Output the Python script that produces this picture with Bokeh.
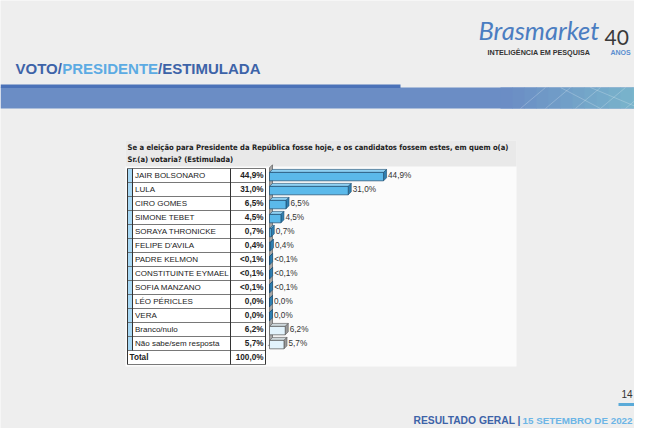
from bokeh.plotting import figure
from bokeh.models import Range1d
from bokeh.embed import file_html
from bokeh.resources import INLINE
from bokeh.core.properties import value

# ---------------- data ----------------
categories = ["JAIR BOLSONARO", "LULA", "CIRO GOMES", "SIMONE TEBET", "SORAYA THRONICKE",
              "FELIPE D'AVILA", "PADRE KELMON", "CONSTITUINTE EYMAEL", "SOFIA MANZANO",
              "LÉO PÉRICLES", "VERA", "Branco/nulo", "Não sabe/sem resposta"]
values = [44.9, 31.0, 6.5, 4.5, 0.7, 0.4, 0.05, 0.05, 0.05, 0.0, 0.0, 6.2, 5.7]
value_labels = ["44,9%", "31,0%", "6,5%", "4,5%", "0,7%", "0,4%", "<0,1%", "<0,1%", "<0,1%",
                "0,0%", "0,0%", "6,2%", "5,7%"]
total_label = "Total"
total_value = "100,0%"
non_candidates = ["Branco/nulo", "Não sabe/sem resposta"]
question = ["Se a eleição para Presidente da República fosse hoje, e os candidatos fossem estes, em quem o(a)",
            "Sr.(a) votaria? (Estimulada)"]

# ---------------- figure (pixel-like coords) ----------------
W, H = 634, 428
p = figure(width=W, height=H, output_backend="svg", toolbar_location=None,
           x_range=Range1d(0, W), y_range=Range1d(H, 0), min_border=0)
p.axis.visible = False
p.grid.visible = False
p.outline_line_color = None
p.background_fill_color = "#eeeeee"
p.border_fill_color = "#eeeeee"

# scales for the chart: percent axis and row axis
PX_PER_PCT = 2.54
X0 = 269
p.extra_x_ranges = {"pct": Range1d((0 - X0) / PX_PER_PCT, (W - X0) / PX_PER_PCT)}
ROW0, ROWH = 175, 14
p.extra_y_ranges = {"row": Range1d((H - ROW0) / ROWH, (0 - ROW0) / ROWH)}

# ---------------- header ----------------
title_font = value("Liberation Sans")
p.text(x=[15], y=[68], text=["VOTO/"], text_font=title_font, text_font_size="15px",
       text_font_style="bold", text_color="#3d63a8", text_baseline="middle")
p.text(x=[61.7], y=[68], text=["PRESIDENTE"], text_font=title_font, text_font_size="15px",
       text_font_style="bold", text_color="#5cabe3", text_baseline="middle")
p.text(x=[157.5], y=[68], text=["/ESTIMULADA"], text_font=title_font, text_font_size="15px",
       text_font_style="bold", text_color="#3d63a8", text_baseline="middle")

# band
p.quad(left=[0], right=[W], top=[87], bottom=[108], fill_color="#6b8dc5", line_color=None)
steps = 12
for k in range(steps):
    t = k / (steps - 1)
    r = int(0x6b + (0x7a - 0x6b) * t)
    g = int(0x8d + (0xb6 - 0x8d) * t)
    b = int(0xc5 + (0xcc - 0xc5) * t)
    l = 500 + k * 12
    p.quad(left=[l], right=[l + 12.5], top=[87], bottom=[108],
           fill_color="#%02x%02x%02x" % (r, g, b), line_color=None)
p.quad(left=[0], right=[400], top=[84], bottom=[87.5], fill_color="#4b72b8", line_color=None)
p.segment(x0=[520, 545, 575, 600, 625, 560, 590], y0=[108, 108, 108, 108, 108, 87, 87],
          x1=[545, 570, 600, 625, 650, 600, 640], y1=[87, 87, 87, 87, 87, 108, 108],
          line_color="#ffffff", line_alpha=0.22, line_width=1)

# logo
p.text(x=[478], y=[29], text=["Brasmarket"], text_font=value("Lato"), text_font_size="25.5px",
       text_font_style="italic", text_color="#4b7dc1", text_baseline="middle")
p.text(x=[604], y=[37], text=["40"], text_font=value("Lato"), text_font_size="21px",
       text_color="#3a3a3a", text_baseline="middle")
p.text(x=[487], y=[51.5], text=["INTELIGÊNCIA EM PESQUISA"], text_font=value("Liberation Sans"),
       text_font_size="7.2px", text_font_style="bold", text_color="#333333", text_baseline="middle")
p.text(x=[610], y=[51.5], text=["ANOS"], text_font=value("Liberation Sans"),
       text_font_size="7px", text_font_style="bold", text_color="#5a8fd0", text_baseline="middle")

# ---------------- panel ----------------
p.quad(left=[125], right=[516], top=[140], bottom=[366], fill_color="#fbfbfb", line_color=None)
p.quad(left=[125], right=[516], top=[140], bottom=[166], fill_color="#e9e9e9", line_color=None)
p.text(x=[127, 127], y=[147, 159], text=question, text_font=value("DejaVu Sans Condensed"),
       text_font_size="7.6px", text_font_style="bold", text_color="#222222", text_baseline="middle")

# ---------------- table ----------------
n = len(categories)
rows = list(range(n))
p.quad(left=[127], right=[132], top=[-0.5], bottom=[n - 0.5], fill_color="#a9d9f5",
       line_color=None, y_range_name="row")
p.quad(left=[132], right=[265], top=[-0.5], bottom=[n - 0.5], fill_color="#ffffff",
       line_color=None, y_range_name="row")
p.quad(left=[127], right=[265], top=[n - 0.5], bottom=[n + 0.5], fill_color="#ffffff",
       line_color=None, y_range_name="row")
bounds = [r - 0.5 for r in rows] + [n - 0.5, n + 0.5]
p.segment(x0=[127] * len(bounds), x1=[265] * len(bounds), y0=bounds, y1=bounds,
          line_color="#555555", line_width=0.8, y_range_name="row")
p.segment(x0=[127, 230, 265], x1=[127, 230, 265], y0=[-0.5] * 3, y1=[n + 0.5] * 3,
          line_color="#333333", line_width=1, y_range_name="row")
p.segment(x0=[132], x1=[132], y0=[-0.5], y1=[n - 0.5], line_color="#333333",
          line_width=1, y_range_name="row")

p.text(x=[134.5] * n, y=rows, text=categories, text_font=value("Liberation Sans"),
       text_font_size="8px", text_color="#222222", text_baseline="middle", y_range_name="row")
p.text(x=[263] * n, y=rows, text=value_labels, text_font=value("Liberation Sans"),
       text_font_size="8.2px", text_font_style="bold", text_color="#222222",
       text_align="right", text_baseline="middle", y_range_name="row")
p.text(x=[129], y=[n], text=[total_label], text_font=value("Liberation Sans"),
       text_font_size="8.2px", text_font_style="bold", text_color="#222222",
       text_baseline="middle", y_range_name="row")
p.text(x=[263], y=[n], text=[total_value], text_font=value("Liberation Sans"),
       text_font_size="8.2px", text_font_style="bold", text_color="#222222",
       text_align="right", text_baseline="middle", y_range_name="row")

# ---------------- 3D bars ----------------
dx = 3 / PX_PER_PCT
dy = 3 / ROWH
# back wall
wall_top, wall_bot = -0.55, n - 0.85
p.patch(x=[-0.5, 0, dx, dx - 0.5], y=[wall_bot, wall_bot, wall_bot - dy, wall_bot - dy],
        fill_color="#b8b8b8", line_color="#777777", line_width=0.6,
        x_range_name="pct", y_range_name="row")
p.patch(x=[0, dx, dx, 0], y=[wall_top, wall_top - dy, wall_bot - dy, wall_bot],
        fill_color="#a6a6a6", line_color="#6a6a6a", line_width=0.8,
        x_range_name="pct", y_range_name="row")

front_c, top_c, side_c, edge_c = [], [], [], []
for c in categories:
    if c in non_candidates:
        front_c.append("#e2f3fc"); top_c.append("#cfd8dc"); side_c.append("#9a9a9a"); edge_c.append("#555555")
    else:
        front_c.append("#5bb9ea"); top_c.append("#8fd1f3"); side_c.append("#2f80b2"); edge_c.append("#1d4b6e")

bt = [r - 0.22 for r in rows]
bb = [r + 0.38 for r in rows]
tops_x = [[0, v, v + dx, dx] for v in values]
tops_y = [[t, t, t - dy, t - dy] for t in bt]
side_x = [[v, v + dx, v + dx, v] for v in values]
side_y = [[t, t - dy, b - dy, b] for t, b in zip(bt, bb)]
p.patches(xs=tops_x, ys=tops_y, fill_color=top_c, line_color=edge_c, line_width=0.6,
          x_range_name="pct", y_range_name="row")
p.patches(xs=side_x, ys=side_y, fill_color=side_c, line_color=edge_c, line_width=0.6,
          x_range_name="pct", y_range_name="row")
p.quad(left=[0] * n, right=values, top=bt, bottom=bb, fill_color=front_c, line_color=edge_c,
       line_width=0.7, x_range_name="pct", y_range_name="row")

p.text(x=[v + dx + 0.6 for v in values], y=rows, text=value_labels,
       text_font=value("Liberation Sans"), text_font_size="8.2px", text_color="#333333",
       text_baseline="middle", x_range_name="pct", y_range_name="row")

# ---------------- footer ----------------
p.text(x=[632], y=[393], text=["14"], text_font=value("Liberation Sans"), text_font_size="10px",
       text_color="#333333", text_align="right", text_baseline="middle")
p.quad(left=[618], right=[W], top=[402.5], bottom=[405.5], fill_color="#5aaad8", line_color=None)
p.text(x=[413], y=[420], text=["RESULTADO GERAL |"], text_font=value("Liberation Sans"),
       text_font_size="10.3px", text_font_style="bold", text_color="#3d63a8", text_baseline="middle")
p.text(x=[632], y=[420], text=["15 SETEMBRO DE 2022"], text_font=value("Liberation Sans"),
       text_font_size="9.8px", text_font_style="bold", text_color="#6cb5e6", text_align="right",
       text_baseline="middle")

open("out.html", "w").write(file_html(p, INLINE))
